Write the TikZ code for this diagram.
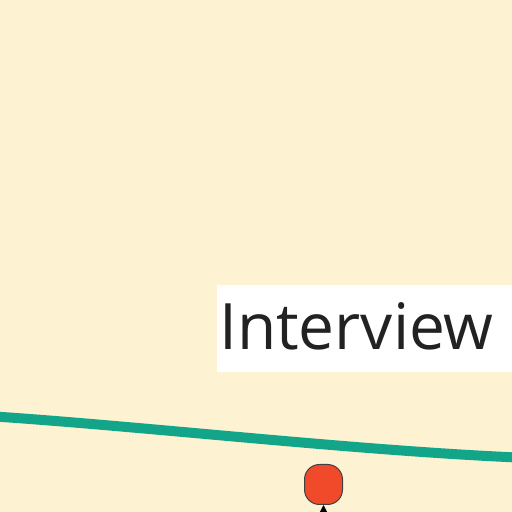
\documentclass[tikz,border=0pt]{standalone}
\usepackage{fontspec}
\setmainfont{Open Sans}
\usetikzlibrary{arrows.meta}
\definecolor{bgcream}{HTML}{FDF2D2}
\definecolor{tealline}{HTML}{12A58A}
\definecolor{redfill}{HTML}{F04A2A}
\definecolor{txtdark}{HTML}{222222}
\tikzset{
  labelbox/.style={fill=white, inner sep=0pt, anchor=south west, minimum width=295pt, minimum height=87pt},
  reddot/.style={fill=redfill, draw=black!75, line width=1pt, rounded corners=15pt, minimum width=38pt, minimum height=40pt, inner sep=0pt},
  flowline/.style={draw=tealline, line width=10pt},
}
\begin{document}
\begin{tikzpicture}[x=1pt,y=1pt]
\useasboundingbox (0,0) rectangle (512,512);
\fill[bgcream] (0,0) rectangle (512,512);
\node[labelbox] (box) at (217,140) {};
\node[anchor=base west, inner sep=0pt, text=txtdark, font=\fontsize{64}{70}\selectfont] (lbl) at (219,162) {Interview};
\coordinate (lstart) at (-5,95.5);
\coordinate (lend) at (517,54.5);
\draw[flowline] (lstart) .. controls (150,85) and (350,62) .. (lend);
\node[reddot] (r) at (323.5,27.5) {};
\coordinate (below) at (323.5,-20);
\draw[-{Triangle[length=8pt,width=8pt]}, line width=1pt, black] (below) -- (r.south);
\end{tikzpicture}
\end{document}
